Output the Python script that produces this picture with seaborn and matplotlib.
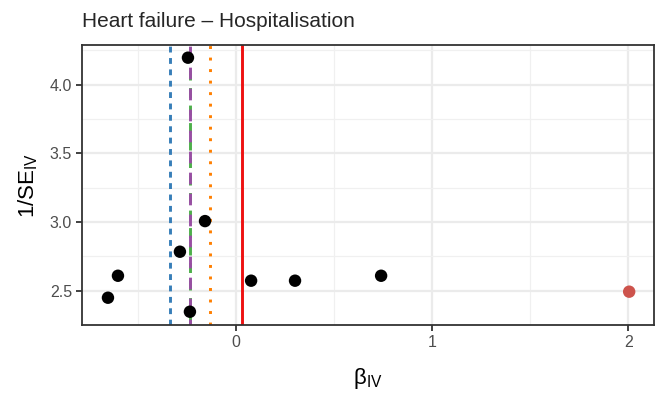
import matplotlib
matplotlib.use("Agg")
import matplotlib.pyplot as plt
import seaborn as sns
import pandas as pd
from matplotlib.ticker import MultipleLocator

# SNP-level estimates
beta_iv = [-0.245, -0.653, -0.602, -0.286, -0.158, -0.235, 0.077, 0.301, 0.740]
inv_se = [4.197, 2.449, 2.609, 2.784, 3.007, 2.347, 2.573, 2.573, 2.609]

# outlier point
outlier_beta = [2.005]
outlier_inv_se = [2.493]

# method estimates (vertical lines)
methods = ["IVW", "MR-Egger", "Weighted median", "Weighted mode", "Simple"]
estimates = [-0.337, -0.235, -0.235, -0.133, 0.033]
line_colors = ["#377EB8", "#4DAF4A", "#984EA3", "#FF7F00", "#EE1111"]
line_styles = [(0, (2.0, 1.9)), (0, (3.4, 2.6)), (2, (4.0, 3.2)), (0, (1.0, 2.95)), "-"]

df = pd.DataFrame({"beta": beta_iv, "inv_se": inv_se})
df_out = pd.DataFrame({"beta": outlier_beta, "inv_se": outlier_inv_se})

sns.set_theme(style="white")
plt.rcParams["font.family"] = ["Liberation Sans", "DejaVu Sans"]

fig = plt.figure(figsize=(6.55, 3.94), dpi=100)
ax = fig.add_axes([0.125, 0.175, 0.873, 0.711])

# grid like theme_bw
ax.xaxis.set_major_locator(MultipleLocator(1))
ax.xaxis.set_minor_locator(MultipleLocator(0.5))
ax.yaxis.set_major_locator(MultipleLocator(0.5))
ax.yaxis.set_minor_locator(MultipleLocator(0.25))
ax.grid(which="major", color="#EBEBEB", linewidth=1.6)
ax.grid(which="minor", color="#F0F0F0", linewidth=0.9)
ax.set_axisbelow(True)

for est, col, ls in zip(estimates, line_colors, line_styles):
    ax.axvline(est, color=col, linestyle=ls, linewidth=2.1, zorder=2)

sns.scatterplot(data=df, x="beta", y="inv_se", color="black", s=80,
                edgecolor="none", ax=ax, zorder=3)
sns.scatterplot(data=df_out, x="beta", y="inv_se", color="#CD534C", s=80,
                edgecolor="none", ax=ax, zorder=3)

ax.set_xlim(-0.786, 2.13)
ax.set_ylim(2.25, 4.29)
ax.set_xticks([0, 1, 2])
ax.set_xticklabels(["0", "1", "2"])
ax.set_yticks([2.5, 3.0, 3.5, 4.0])
ax.set_yticklabels(["2.5", "3.0", "3.5", "4.0"])

for sp in ax.spines.values():
    sp.set_color("#333333")
    sp.set_linewidth(1.3)

ax.tick_params(axis="both", which="major", length=4, width=1.3, color="#333333",
               labelsize=11.5, labelcolor="#4D4D4D", bottom=True, left=True, pad=3)
ax.tick_params(which="minor", length=0)

ax.set_xlabel("β$_{\\mathregular{IV}}$", fontsize=16, color="black", labelpad=12)
ax.set_ylabel("1/SE$_{\\mathregular{IV}}$", fontsize=16, color="black", labelpad=7)
ax.set_title("Heart failure – Hospitalisation", fontsize=15, loc="left", pad=13)

fig.savefig("out.png", dpi=100)
